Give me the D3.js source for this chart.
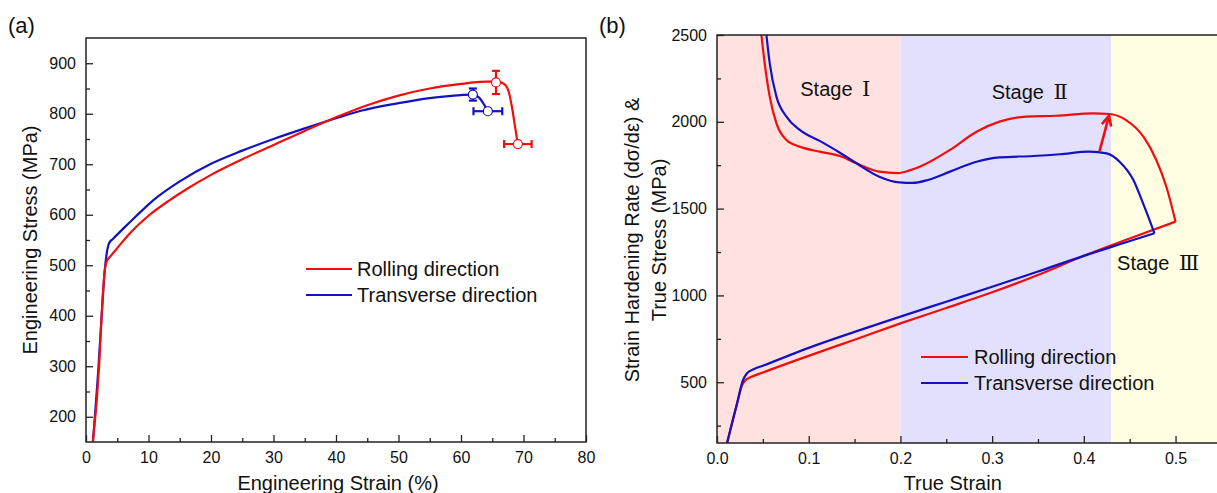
<!DOCTYPE html>
<html>
  <head>
    <meta charset="utf-8">
    <script src="https://d3js.org/d3.v7.min.js"></script>
    <style>
      body { margin: 0; background: #fff; }
      text { font-family: "Liberation Sans", Arial, "Noto Sans CJK SC", sans-serif; fill: #111; }
    </style>
  </head>
  <body>
    <script>

      // ---- data, panel (a): engineering stress-strain
      var engStrainRD = [1.1, 2.1, 2.5, 3.0, 3.3, 4, 5, 7, 10, 13.4, 16, 20, 25, 30, 35, 40, 45, 50, 55, 60, 63, 65.5, 66.8, 67.6, 68.2, 68.7, 69.1];
      var engStressRD = [150, 300, 400, 490, 507, 519, 534, 563, 598, 629, 650, 679, 710, 738, 766, 793, 817, 836, 850, 859, 863, 864, 860, 845, 810, 770, 740];
      var engStrainTD = [1.1, 2.0, 2.5, 3.0, 3.4, 3.7, 4.3, 6, 8, 10.7, 15, 20, 25, 30, 35, 40, 44, 50, 55, 60, 61.9, 62.9, 63.7, 64.3];
      var engStressTD = [150, 300, 400, 490, 530, 544, 552, 573, 597, 628, 666, 701, 727, 750, 771, 791, 806, 821, 831, 837, 838, 832, 818, 805];

      // points with error bars: [strain, stress, x error, y error]
      var errRD = [[65.6, 862, 0, 23], [69.1, 740, 2.2, 0]];
      var errTD = [[61.9, 838, 0, 12], [64.3, 805, 2.3, 0]];

      // ---- data, panel (b): true stress and strain hardening rate
      var trueStrainRD = [0.011, 0.016, 0.022, 0.027, 0.031, 0.037, 0.05, 0.1, 0.15, 0.2, 0.25, 0.3, 0.35, 0.4, 0.45, 0.5];
      var trueStressRD = [150, 260, 380, 478, 512, 530, 556, 652, 745, 839, 928, 1018, 1118, 1228, 1328, 1425];
      var trueStrainTD = [0.011, 0.021, 0.0284, 0.033, 0.04, 0.05, 0.1, 0.15, 0.2, 0.25, 0.3, 0.35, 0.4, 0.44, 0.477];
      var trueStressTD = [150, 359, 513, 553, 575, 595, 698, 790, 878, 964, 1050, 1138, 1228, 1296, 1358];

      var hardStrainRD = [0.0484, 0.052, 0.0575, 0.0648, 0.0757, 0.0902, 0.112, 0.134, 0.152, 0.177, 0.197, 0.21, 0.221, 0.254, 0.283, 0.308, 0.337, 0.37, 0.41, 0.428, 0.446, 0.465, 0.479, 0.49, 0.5];
      var hardRateRD   = [2500, 2337, 2145, 1991, 1895, 1857, 1828, 1803, 1761, 1713, 1705, 1720, 1741, 1838, 1943, 2001, 2030, 2035, 2049, 2045, 2010, 1914, 1780, 1626, 1425];
      var hardStrainTD = [0.0539, 0.0575, 0.0648, 0.0757, 0.0902, 0.112, 0.134, 0.152, 0.177, 0.199, 0.213, 0.23, 0.254, 0.283, 0.308, 0.345, 0.374, 0.406, 0.425, 0.439, 0.454, 0.466, 0.477];
      var hardRateTD   = [2500, 2337, 2145, 2030, 1953, 1890, 1822, 1761, 1684, 1651, 1648, 1665, 1713, 1770, 1795, 1803, 1813, 1828, 1818, 1770, 1665, 1511, 1358];

      var stageEdges = [0, 0.2, 0.43, 0.55];
      var stageWord = "Stage";
      var stageNumerals = ["\u2160", "\u2161", "\u2162"];
      var stageLabelAt = [[0.129, 2150], [0.341, 2130], [0.481, 1145]];
      var arrowFrom = [0.417, 1828];
      var arrowTo = [0.4275, 2035];

      var seriesNames = ["Rolling direction", "Transverse direction"];
      var engXTicks = [0, 10, 20, 30, 40, 50, 60, 70, 80];
      var engYTicks = [200, 300, 400, 500, 600, 700, 800, 900];
      var trueXTicks = [0.0, 0.1, 0.2, 0.3, 0.4, 0.5];
      var trueYTicks = [500, 1000, 1500, 2000, 2500];

      var red = "#f20d0d", blue = "#1212c4";
      var stageColors = ["#ffe2e0", "#e2e0fc", "#fffee3"];

      var svg = d3.select("body").append("svg")
        .attr("width", 1217)
        .attr("height", 493);

      function zip(a, b) { return a.map(function(v, i) { return [v, b[i]]; }); }

      function addAxes(g, x, y, xt, yt, xMinor, yMinor, xFmt, w, h) {
        g.append("g").attr("transform", "translate(0," + h + ")")
          .call(d3.axisBottom(x).tickValues(xMinor).tickSize(-4).tickFormat(""));
        g.append("g")
          .call(d3.axisLeft(y).tickValues(yMinor).tickSize(-4).tickFormat(""));
        g.append("g").attr("class", "xa").attr("transform", "translate(0," + h + ")")
          .call(d3.axisBottom(x).tickValues(xt).tickSize(-7).tickPadding(10).tickFormat(xFmt));
        g.append("g").attr("class", "ya")
          .call(d3.axisLeft(y).tickValues(yt).tickSize(-7).tickPadding(10).tickFormat(d3.format("d")));
        g.selectAll(".domain").remove();
        g.selectAll(".tick line").attr("stroke", "#222").attr("stroke-width", 1.3);
        g.selectAll(".tick text").style("font-size", "16px").attr("fill", "#111");
      }

      var line = d3.line().curve(d3.curveMonotoneX);

      // ================= panel (a)
      var wa = 500, ha = 404;
      var ga = svg.append("g").attr("transform", "translate(86,38)");
      var xa = d3.scaleLinear().domain([0, 80]).range([0, wa]);
      var ya = d3.scaleLinear().domain([150, 950]).range([ha, 0]);

      ga.append("clipPath").attr("id", "clipA").append("rect").attr("width", wa).attr("height", ha);

      addAxes(ga, xa, ya, engXTicks, engYTicks, d3.range(5, 80, 10), d3.range(250, 950, 100), d3.format("d"), wa, ha);

      var la = line.x(function(d) { return xa(d[0]); }).y(function(d) { return ya(d[1]); });
      var curvesA = ga.append("g").attr("clip-path", "url(#clipA)");
      curvesA.append("path").attr("d", la(zip(engStrainTD, engStressTD)))
        .attr("fill", "none").attr("stroke", blue).attr("stroke-width", 2.2);
      curvesA.append("path").attr("d", la(zip(engStrainRD, engStressRD)))
        .attr("fill", "none").attr("stroke", red).attr("stroke-width", 2.2);

      function errorBars(data, color) {
        var cap = 4;
        data.forEach(function(d) {
          var cx = xa(d[0]), cy = ya(d[1]);
          var eg = ga.append("g").attr("stroke", color).attr("stroke-width", 2.2);
          if (d[3] > 0) {
            var t = ya(d[1] + d[3]), b = ya(d[1] - d[3]);
            eg.append("line").attr("x1", cx).attr("x2", cx).attr("y1", t).attr("y2", b);
            eg.append("line").attr("x1", cx - cap).attr("x2", cx + cap).attr("y1", t).attr("y2", t);
            eg.append("line").attr("x1", cx - cap).attr("x2", cx + cap).attr("y1", b).attr("y2", b);
          }
          if (d[2] > 0) {
            var l = xa(d[0] - d[2]), r = xa(d[0] + d[2]);
            eg.append("line").attr("x1", l).attr("x2", r).attr("y1", cy).attr("y2", cy);
            eg.append("line").attr("x1", l).attr("x2", l).attr("y1", cy - cap).attr("y2", cy + cap);
            eg.append("line").attr("x1", r).attr("x2", r).attr("y1", cy - cap).attr("y2", cy + cap);
          }
          ga.append("circle").attr("cx", cx).attr("cy", cy).attr("r", 4.5)
            .attr("fill", "#fff").attr("stroke", color).attr("stroke-width", 1.2);
        });
      }
      errorBars(errTD, blue);
      errorBars(errRD, red);

      ga.append("rect").attr("width", wa).attr("height", ha)
        .attr("fill", "none").attr("stroke", "#222").attr("stroke-width", 1.5);

      // legend (a)
      [red, blue].forEach(function(c, i) {
        ga.append("line").attr("x1", 220).attr("x2", 266).attr("y1", 231 + i * 26).attr("y2", 231 + i * 26)
          .attr("stroke", c).attr("stroke-width", 2.2);
        ga.append("text").attr("x", 271).attr("y", 231 + i * 26).attr("dy", "0.35em")
          .style("font-size", "20px").text(seriesNames[i]);
      });

      ga.append("text").attr("x", wa / 2 + 2).attr("y", 452).attr("text-anchor", "middle")
        .style("font-size", "20px").text("Engineering Strain (%)");
      ga.append("text").attr("transform", "translate(-49," + (ha / 2) + ") rotate(-90)")
        .attr("text-anchor", "middle").style("font-size", "20px").text("Engineering Stress (MPa)");
      svg.append("text").attr("x", 8).attr("y", 33).style("font-size", "22px").text("(a)");

      // ================= panel (b)
      var wb = 504.4, hb = 408;
      var gb = svg.append("g").attr("transform", "translate(717,35)");
      var xb = d3.scaleLinear().domain([0, 0.55]).range([0, wb]);
      var yb = d3.scaleLinear().domain([150, 2500]).range([hb, 0]);

      gb.append("clipPath").attr("id", "clipB").append("rect").attr("width", wb).attr("height", hb);

      gb.selectAll("rect.stage").data(stageColors).enter().append("rect")
        .attr("class", "stage")
        .attr("x", function(d, i) { return xb(stageEdges[i]); })
        .attr("width", function(d, i) { return xb(stageEdges[i + 1]) - xb(stageEdges[i]); })
        .attr("y", 0).attr("height", hb)
        .attr("fill", function(d) { return d; });

      addAxes(gb, xb, yb, trueXTicks, trueYTicks, d3.range(0.05, 0.55, 0.1), d3.range(250, 2500, 250).filter(function(v) { return v % 500 !== 0; }), d3.format(".1f"), wb, hb);

      var lb = line.x(function(d) { return xb(d[0]); }).y(function(d) { return yb(d[1]); });
      var curvesB = gb.append("g").attr("clip-path", "url(#clipB)");
      curvesB.append("path").attr("d", lb(zip(trueStrainRD, trueStressRD)))
        .attr("fill", "none").attr("stroke", red).attr("stroke-width", 2.2);
      curvesB.append("path").attr("d", lb(zip(hardStrainRD, hardRateRD)))
        .attr("fill", "none").attr("stroke", red).attr("stroke-width", 2.2);
      curvesB.append("path").attr("d", lb(zip(trueStrainTD, trueStressTD)))
        .attr("fill", "none").attr("stroke", blue).attr("stroke-width", 2.2);
      curvesB.append("path").attr("d", lb(zip(hardStrainTD, hardRateTD)))
        .attr("fill", "none").attr("stroke", blue).attr("stroke-width", 2.2);

      // arrow
      var ax0 = xb(arrowFrom[0]), ay0 = yb(arrowFrom[1]), ax1 = xb(arrowTo[0]), ay1 = yb(arrowTo[1]);
      var ang = Math.atan2(ay1 - ay0, ax1 - ax0), hl = 11, hw = 0.45;
      gb.append("line").attr("x1", ax0).attr("y1", ay0).attr("x2", ax1).attr("y2", ay1)
        .attr("stroke", red).attr("stroke-width", 2.6);
      gb.append("path")
        .attr("d", "M" + (ax1 - hl * Math.cos(ang - hw)) + "," + (ay1 - hl * Math.sin(ang - hw)) +
                   "L" + ax1 + "," + ay1 +
                   "L" + (ax1 - hl * Math.cos(ang + hw)) + "," + (ay1 - hl * Math.sin(ang + hw)))
        .attr("fill", "none").attr("stroke", red).attr("stroke-width", 2.6);

      stageNumerals.forEach(function(n, i) {
        var t = gb.append("text").attr("x", xb(stageLabelAt[i][0])).attr("y", yb(stageLabelAt[i][1]))
          .attr("text-anchor", "middle").style("font-size", "20px");
        t.append("tspan").text(stageWord + " ");
        t.append("tspan").attr("dx", 4).style("font-family", "'DejaVu Serif', 'Liberation Serif', serif")
          .style("font-size", "21px").text(n);
      });

      // frame (right side falls outside the window)
      gb.append("rect").attr("width", wb).attr("height", hb)
        .attr("fill", "none").attr("stroke", "#222").attr("stroke-width", 1.5);

      // legend (b)
      [red, blue].forEach(function(c, i) {
        gb.append("line").attr("x1", 204).attr("x2", 251).attr("y1", 322 + i * 26).attr("y2", 322 + i * 26)
          .attr("stroke", c).attr("stroke-width", 2.2);
        gb.append("text").attr("x", 257).attr("y", 322 + i * 26).attr("dy", "0.35em")
          .style("font-size", "20px").text(seriesNames[i]);
      });

      gb.append("text").attr("x", xb(0.257)).attr("y", 455).attr("text-anchor", "middle")
        .style("font-size", "20px").text("True Strain");
      gb.append("text").attr("transform", "translate(-78," + (hb / 2 + 1) + ") rotate(-90)")
        .attr("text-anchor", "middle").style("font-size", "20px").text("Strain Hardening Rate (d\u03c3/d\u03b5) &");
      gb.append("text").attr("transform", "translate(-51," + (hb / 2 + 1) + ") rotate(-90)")
        .attr("text-anchor", "middle").style("font-size", "20px").text("True Stress (MPa)");
      svg.append("text").attr("x", 599).attr("y", 33).style("font-size", "22px").text("(b)");

    </script>
  </body>
</html>
